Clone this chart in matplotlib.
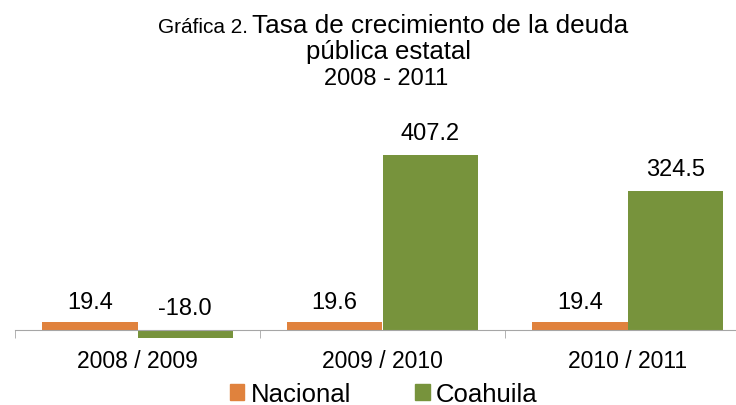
import numpy as np
import matplotlib
matplotlib.use('Agg')
import matplotlib.pyplot as plt
import matplotlib.patches as mpatches

plt.rcParams['font.family'] = ['Liberation Sans', 'DejaVu Sans']

periodos = ['2008 / 2009', '2009 / 2010', '2010 / 2011']
nacional = [19.4, 19.6, 19.4]
coahuila = [-18.0, 407.2, 324.5]

colNac = '#E0823D'
colCoa = '#77933C'

fig = plt.figure(figsize=(7.36, 4.06), dpi=100)
ax = fig.add_axes([15/736, 0.153, 735/736, 0.487])

x = np.arange(len(periodos))
w = 0.39
ax.bar(x - w/2, nacional, w, color=colNac)
ax.bar(x + w/2, coahuila, w, color=colCoa)

for xi, v in zip(x - w/2, nacional):
    ax.annotate('%.1f' % v, (xi, max(v, 0)), xytext=(0, 14), textcoords='offset points',
                ha='center', va='center', fontsize=17)
for xi, v in zip(x + w/2, coahuila):
    ax.annotate('%.1f' % v, (xi, max(v, 0)), xytext=(0, 15.5), textcoords='offset points',
                ha='center', va='center', fontsize=17)

ax.set_xlim(-0.5, 2.5)
ax.set_ylim(-30, 430)
for s in ['top', 'right', 'left']:
    ax.spines[s].set_visible(False)
ax.spines['bottom'].set_position(('data', 0))
ax.spines['bottom'].set_color('#A6A6A6')
ax.set_yticks([])
ax.set_xticks(x)
ax.set_xticklabels(periodos, fontsize=16.5)
ax.tick_params(axis='x', which='major', length=0, pad=14)
ax.set_xticks([-0.5, 0.5, 1.5, 2.5], minor=True)
ax.tick_params(axis='x', which='minor', length=6, color='#A6A6A6')

# titulo
fig.text(248/736, 1 - 33/406, 'Gráfica 2.', ha='right', va='baseline', fontsize=15)
fig.text(252/736, 1 - 33/406, 'Tasa de crecimiento de la deuda', ha='left', va='baseline', fontsize=18.8)
fig.text(388/736, 1 - 52/406, 'pública estatal', ha='center', va='center', fontsize=18.5)
fig.text(386/736, 1 - 79/406, '2008 - 2011', ha='center', va='center', fontsize=17)

handles = [mpatches.Patch(color=colNac, label='Nacional'),
           mpatches.Patch(color=colCoa, label='Coahuila')]
fig.legend(handles=handles, loc='center', bbox_to_anchor=(384/736, 1 - 395/406), ncol=2,
           frameon=False, fontsize=18.5, handlelength=0.55, handleheight=0.55,
           handletextpad=0.25, columnspacing=2.5)

plt.savefig('out.png', dpi=100)
